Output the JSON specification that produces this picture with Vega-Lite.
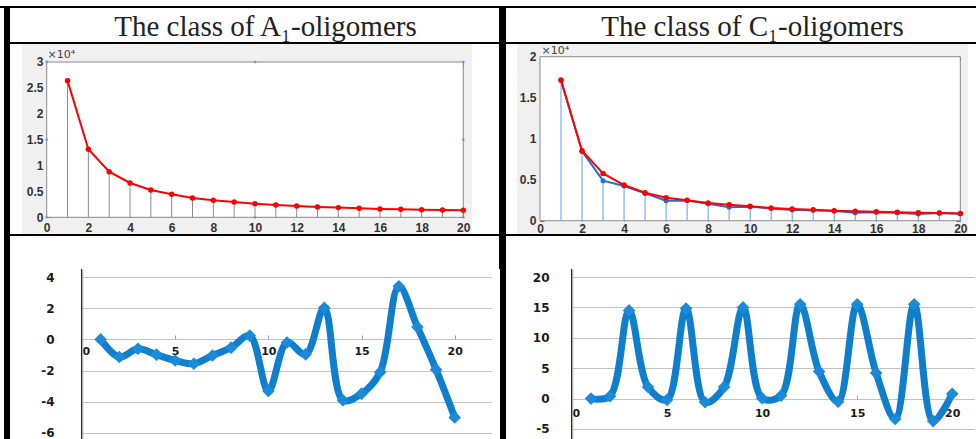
{
  "$schema": "https://vega.github.io/schema/vega-lite/v6.json",
  "background": "black",
  "padding": 0,
  "spacing": 2,
  "datasets": {
    "a1": [
      {"n": 1, "v": 26400}, {"n": 2, "v": 13140}, {"n": 3, "v": 8820}, {"n": 4, "v": 6630},
      {"n": 5, "v": 5280}, {"n": 6, "v": 4440}, {"n": 7, "v": 3730}, {"n": 8, "v": 3280},
      {"n": 9, "v": 2960}, {"n": 10, "v": 2640}, {"n": 11, "v": 2380}, {"n": 12, "v": 2190},
      {"n": 13, "v": 2000}, {"n": 14, "v": 1870}, {"n": 15, "v": 1740}, {"n": 16, "v": 1610},
      {"n": 17, "v": 1550}, {"n": 18, "v": 1480}, {"n": 19, "v": 1420}, {"n": 20, "v": 1350}
    ],
    "c1": [
      {"n": 1, "fit": 17150, "obs": 17100}, {"n": 2, "fit": 8540, "obs": 8450},
      {"n": 3, "fit": 5770, "obs": 4880}, {"n": 4, "fit": 4350, "obs": 4230},
      {"n": 5, "fit": 3410, "obs": 3330}, {"n": 6, "fit": 2800, "obs": 2440},
      {"n": 7, "fit": 2480, "obs": 2460}, {"n": 8, "fit": 2150, "obs": 2070},
      {"n": 9, "fit": 1950, "obs": 1630}, {"n": 10, "fit": 1750, "obs": 1710},
      {"n": 11, "fit": 1550, "obs": 1500}, {"n": 12, "fit": 1420, "obs": 1300},
      {"n": 13, "fit": 1340, "obs": 1260}, {"n": 14, "fit": 1220, "obs": 1180},
      {"n": 15, "fit": 1140, "obs": 980}, {"n": 16, "fit": 1100, "obs": 1020},
      {"n": 17, "fit": 1020, "obs": 980}, {"n": 18, "fit": 980, "obs": 810},
      {"n": 19, "fit": 930, "obs": 930}, {"n": 20, "fit": 890, "obs": 850}
    ],
    "corners": [
      {"x": 0, "y": 0}, {"x": 10, "y": 0}, {"x": 20, "y": 0}, {"x": 0, "y": 15000},
      {"x": 20, "y": 15000}, {"x": 0, "y": 30000}, {"x": 10, "y": 30000}, {"x": 20, "y": 30000}
    ],
    "exA": [
      {"n": 1, "v": 0}, {"n": 2, "v": -1.13}, {"n": 3, "v": -0.6}, {"n": 4, "v": -0.98},
      {"n": 5, "v": -1.35}, {"n": 6, "v": -1.56}, {"n": 7, "v": -1.03}, {"n": 8, "v": -0.53},
      {"n": 9, "v": 0.24}, {"n": 10, "v": -3.3}, {"n": 11, "v": -0.2}, {"n": 12, "v": -0.96},
      {"n": 13, "v": 2.03}, {"n": 14, "v": -3.9}, {"n": 15, "v": -3.48}, {"n": 16, "v": -2.1},
      {"n": 17, "v": 3.4}, {"n": 18, "v": 0.79}, {"n": 19, "v": -1.94}, {"n": 20, "v": -5.0}
    ],
    "exC": [
      {"n": 1, "v": 0}, {"n": 2, "v": 0.4}, {"n": 3, "v": 14.5}, {"n": 4, "v": 1.9},
      {"n": 5, "v": -0.2}, {"n": 6, "v": 14.8}, {"n": 7, "v": -0.6}, {"n": 8, "v": 1.9},
      {"n": 9, "v": 15.0}, {"n": 10, "v": 0.05}, {"n": 11, "v": 0.5}, {"n": 12, "v": 15.5},
      {"n": 13, "v": 4.45}, {"n": 14, "v": -0.5}, {"n": 15, "v": 15.5}, {"n": 16, "v": 4.2},
      {"n": 17, "v": -3.35}, {"n": 18, "v": 15.5}, {"n": 19, "v": -3.7}, {"n": 20, "v": 0.8}
    ],
    "gridA": [{"g": -6}, {"g": -4}, {"g": -2}, {"g": 0}, {"g": 2}, {"g": 4}],
    "gridC": [{"g": -5}, {"g": 0}, {"g": 5}, {"g": 10}, {"g": 15}, {"g": 20}],
    "blank": [{}],
    "tA": [{"t": "The class of A₁-oligomers"}],
    "tC": [{"t": "The class of C₁-oligomers"}]
  },
  "vconcat": [
    {"width": 976, "height": 6, "data": {"name": "blank"}, "mark": {"type": "rect", "color": "white"}, "encoding": {}},
    {
      "spacing": 6,
      "hconcat": [
        {"width": 4, "height": 431, "data": {"name": "blank"}, "mark": {"type": "rect", "color": "white"}, "encoding": {}},
        {
          "spacing": 2,
          "vconcat": [
            {
              "width": 489, "height": 34,
              "data": {"name": "tA"},
              "layer": [
                {"mark": {"type": "rect", "color": "white"}, "encoding": {}},
                {
                  "mark": {"type": "text", "font": "Liberation Serif", "fontSize": 29, "color": "#222222", "baseline": "alphabetic", "dy": 11, "dx": 11},
                  "encoding": {"text": {"field": "t"}}
                }
              ]
            },
            {
              "spacing": 0,
              "hconcat": [
                {"width": 12, "height": 190, "data": {"name": "blank"}, "mark": {"type": "rect", "color": "white"}, "encoding": {}},
                {
                  "width": 450, "height": 190,
                  "view": {"fill": "#f0f0f0"},
                  "resolve": {"axis": {"x": "independent", "y": "independent"}},
                  "layer": [
                    {
                      "data": {"name": "blank"},
                      "mark": {"type": "rect", "fill": "white", "stroke": "#8a8a8a", "strokeWidth": 1},
                      "encoding": {
                        "x": {"datum": 0, "type": "quantitative", "scale": {"domain": [-1.186, 20.418], "nice": false, "zero": false},
                          "axis": {"orient": "bottom", "offset": -17, "values": [0,2,4,6,8,10,12,14,16,18,20], "domain": false, "grid": false, "tickSize": -4, "tickColor": "#666666", "labelPadding": 9, "labelFont": "Liberation Sans", "labelFontSize": 12, "labelFontWeight": "bold", "labelColor": "#333333", "title": null}},
                        "x2": {"datum": 20},
                        "y": {"datum": 0, "type": "quantitative", "scale": {"domain": [-3226, 33477], "nice": false, "zero": false},
                          "axis": {"orient": "left", "offset": -25, "values": [0,5000,10000,15000,20000,25000,30000], "labelExpr": "'' + datum.value / 10000", "domain": false, "grid": false, "tickSize": -4, "tickColor": "#666666", "labelPadding": 8, "labelFont": "Liberation Sans", "labelFontSize": 12, "labelFontWeight": "bold", "labelColor": "#333333",
                            "title": "×10⁴", "titleAngle": 0, "titleAlign": "left", "titleBaseline": "alphabetic", "titleX": 0, "titleY": 13, "titleFont": "DejaVu Sans", "titleFontSize": 11, "titleFontWeight": "normal", "titleColor": "#444444"}},
                        "y2": {"datum": 30000}
                      }
                    },
                    {
                      "data": {"name": "a1"},
                      "mark": {"type": "rule", "color": "#8c8c8c", "strokeWidth": 1},
                      "encoding": {
                        "x": {"field": "n", "type": "quantitative",
                          "axis": {"orient": "top", "offset": -18, "values": [0,2,4,6,8,10,12,14,16,18,20], "labels": false, "domain": false, "grid": false, "tickSize": -4, "tickColor": "#666666", "title": null}},
                        "y": {"field": "v", "type": "quantitative",
                          "axis": {"orient": "right", "offset": -9, "values": [0,5000,10000,15000,20000,25000,30000], "labels": false, "domain": false, "grid": false, "tickSize": -4, "tickColor": "#666666", "title": null}},
                        "y2": {"datum": 0}
                      }
                    },
                    {
                      "data": {"name": "a1"},
                      "mark": {"type": "line", "color": "#ff0000", "strokeWidth": 2, "point": {"filled": true, "color": "#ff0000", "size": 30}},
                      "encoding": {
                        "x": {"field": "n", "type": "quantitative", "axis": null},
                        "y": {"field": "v", "type": "quantitative", "axis": null}
                      }
                    },
                    {
                      "data": {"name": "corners"},
                      "mark": {"type": "point", "filled": true, "color": "#3aa0e0", "size": 8},
                      "encoding": {
                        "x": {"field": "x", "type": "quantitative", "axis": null},
                        "y": {"field": "y", "type": "quantitative", "axis": null}
                      }
                    }
                  ]
                },
                {"width": 27, "height": 190, "data": {"name": "blank"}, "mark": {"type": "rect", "color": "white"}, "encoding": {}}
              ]
            },
            {
              "spacing": 0,
              "vconcat": [
                {"width": 489, "height": 33, "data": {"name": "blank"}, "mark": {"type": "rect", "color": "white"}, "encoding": {}},
                {
                  "spacing": 0,
                  "hconcat": [
                    {
                      "width": 71, "height": 170,
                      "data": {"name": "gridA"},
                      "mark": {"type": "rule", "opacity": 0},
                      "encoding": {
                        "y": {"field": "g", "type": "quantitative", "scale": {"domain": [-6.385, 4.513], "nice": false, "zero": false},
                          "axis": {"orient": "left", "offset": -71, "values": [-6,-4,-2,0,2,4], "labelExpr": "datum.value < 0 ? '-' + abs(datum.value) : '' + datum.value", "domain": false, "ticks": false, "grid": false, "labelPadding": 27, "labelFont": "DejaVu Sans", "labelFontSize": 12, "labelFontWeight": "bold", "labelColor": "#1a1a1a", "title": null}}
                      }
                    },
                    {
                      "width": 410, "height": 170,
                      "data": {"name": "exA"},
                      "mark": {"type": "line", "color": "#0f7fcd", "strokeWidth": 7, "interpolate": "catmull-rom", "point": {"shape": "diamond", "filled": true, "size": 160, "color": "#1b8ad8"}},
                      "encoding": {
                        "x": {"field": "n", "type": "quantitative", "scale": {"domain": [0, 22], "nice": false, "zero": false},
                          "axis": {"orient": "bottom", "offset": -100, "values": [0,5,10,15,20], "labelFlush": true, "domain": false, "ticks": true, "tickSize": -4, "tickColor": "#a0a0a0", "labelPadding": 10, "grid": false, "labelFont": "DejaVu Sans", "labelFontSize": 11, "labelFontWeight": "bold", "labelColor": "#1a1a1a", "title": null}},
                        "y": {"field": "v", "type": "quantitative", "scale": {"domain": [-6.385, 4.513], "nice": false, "zero": false},
                          "axis": {"orient": "left", "values": [-6,-4,-2,0,2,4], "labels": false, "ticks": false, "domain": true, "domainColor": "#b0b0b0", "domainWidth": 1.5, "grid": true, "gridColor": "#c2c2c2", "gridWidth": 1.2, "title": null}}
                      }
                    },
                    {"width": 8, "height": 170, "data": {"name": "blank"}, "mark": {"type": "rect", "color": "white"}, "encoding": {}}
                  ]
                }
              ]
            }
          ]
        },
        {
          "spacing": 2,
          "vconcat": [
            {
              "width": 471, "height": 34,
              "data": {"name": "tC"},
              "layer": [
                {"mark": {"type": "rect", "color": "white"}, "encoding": {}},
                {
                  "mark": {"type": "text", "font": "Liberation Serif", "fontSize": 29, "color": "#222222", "baseline": "alphabetic", "dy": 11, "dx": 11},
                  "encoding": {"text": {"field": "t"}}
                }
              ]
            },
            {
              "spacing": 0,
              "hconcat": [
                {"width": 11, "height": 190, "data": {"name": "blank"}, "mark": {"type": "rect", "color": "white"}, "encoding": {}},
                {
                  "width": 451, "height": 190,
                  "view": {"fill": "#f0f0f0"},
                  "resolve": {"axis": {"x": "independent", "y": "independent"}},
                  "layer": [
                    {
                      "data": {"name": "blank"},
                      "mark": {"type": "rect", "fill": "white", "stroke": "#8a8a8a", "strokeWidth": 1},
                      "encoding": {
                        "x": {"datum": 0, "type": "quantitative", "scale": {"domain": [-1.094, 20.366], "nice": false, "zero": false},
                          "axis": {"orient": "bottom", "offset": -13, "values": [0,2,4,6,8,10,12,14,16,18,20], "domain": false, "grid": false, "tickSize": -4, "tickColor": "#666666", "labelPadding": 6, "labelFont": "Liberation Sans", "labelFontSize": 12, "labelFontWeight": "bold", "labelColor": "#333333", "title": null}},
                        "x2": {"datum": 20},
                        "y": {"datum": 0, "type": "quantitative", "scale": {"domain": [-1622, 21549], "nice": false, "zero": false},
                          "axis": {"orient": "left", "offset": -23, "values": [0,5000,10000,15000,20000], "labelExpr": "'' + datum.value / 10000", "domain": false, "grid": false, "tickSize": -4, "tickColor": "#666666", "labelPadding": 8, "labelFont": "Liberation Sans", "labelFontSize": 12, "labelFontWeight": "bold", "labelColor": "#333333",
                            "title": "×10⁴", "titleAngle": 0, "titleAlign": "left", "titleBaseline": "alphabetic", "titleX": 1, "titleY": 9, "titleFont": "DejaVu Sans", "titleFontSize": 11, "titleFontWeight": "normal", "titleColor": "#444444"}},
                        "y2": {"datum": 20000}
                      }
                    },
                    {
                      "data": {"name": "c1"},
                      "mark": {"type": "rule", "color": "#5f9cf2", "strokeWidth": 1},
                      "encoding": {
                        "x": {"field": "n", "type": "quantitative",
                          "axis": {"orient": "top", "offset": -13, "values": [0,2,4,6,8,10,12,14,16,18,20], "labels": false, "domain": false, "grid": false, "tickSize": -4, "tickColor": "#666666", "title": null}},
                        "y": {"field": "obs", "type": "quantitative",
                          "axis": {"orient": "right", "offset": -8, "values": [0,5000,10000,15000,20000], "labels": false, "domain": false, "grid": false, "tickSize": -4, "tickColor": "#666666", "title": null}},
                        "y2": {"datum": 0}
                      }
                    },
                    {
                      "data": {"name": "c1"},
                      "mark": {"type": "line", "color": "#1f6fd0", "strokeWidth": 2, "point": {"filled": true, "color": "#1f6fd0", "size": 25}},
                      "encoding": {
                        "x": {"field": "n", "type": "quantitative", "axis": null},
                        "y": {"field": "obs", "type": "quantitative", "axis": null}
                      }
                    },
                    {
                      "data": {"name": "c1"},
                      "mark": {"type": "line", "color": "#ff0000", "strokeWidth": 2, "point": {"filled": true, "color": "#ff0000", "size": 30}},
                      "encoding": {
                        "x": {"field": "n", "type": "quantitative", "axis": null},
                        "y": {"field": "fit", "type": "quantitative", "axis": null}
                      }
                    }
                  ]
                },
                {"width": 9, "height": 190, "data": {"name": "blank"}, "mark": {"type": "rect", "color": "white"}, "encoding": {}}
              ]
            },
            {
              "spacing": 0,
              "vconcat": [
                {"width": 471, "height": 33, "data": {"name": "blank"}, "mark": {"type": "rect", "color": "white"}, "encoding": {}},
                {
                  "spacing": 0,
                  "hconcat": [
                    {
                      "width": 65, "height": 170,
                      "data": {"name": "gridC"},
                      "mark": {"type": "rule", "opacity": 0},
                      "encoding": {
                        "y": {"field": "g", "type": "quantitative", "scale": {"domain": [-6.645, 21.316], "nice": false, "zero": false},
                          "axis": {"orient": "left", "offset": -65, "values": [-5,0,5,10,15,20], "labelExpr": "datum.value < 0 ? '-' + abs(datum.value) : '' + datum.value", "domain": false, "ticks": false, "grid": false, "labelPadding": 22, "labelFont": "DejaVu Sans", "labelFontSize": 12, "labelFontWeight": "bold", "labelColor": "#1a1a1a", "title": null}}
                      }
                    },
                    {
                      "width": 403, "height": 170,
                      "data": {"name": "exC"},
                      "mark": {"type": "line", "color": "#0f7fcd", "strokeWidth": 7, "interpolate": "catmull-rom", "point": {"shape": "diamond", "filled": true, "size": 160, "color": "#1b8ad8"}},
                      "encoding": {
                        "x": {"field": "n", "type": "quantitative", "scale": {"domain": [0, 21.2], "nice": false, "zero": false},
                          "axis": {"orient": "bottom", "offset": -40, "values": [0,5,10,15,20], "labelFlush": true, "domain": false, "ticks": true, "tickSize": -4, "tickColor": "#a0a0a0", "labelPadding": 12, "grid": false, "labelFont": "DejaVu Sans", "labelFontSize": 11, "labelFontWeight": "bold", "labelColor": "#1a1a1a", "title": null}},
                        "y": {"field": "v", "type": "quantitative", "scale": {"domain": [-6.645, 21.316], "nice": false, "zero": false},
                          "axis": {"orient": "left", "values": [-5,0,5,10,15,20], "labels": false, "ticks": false, "domain": true, "domainColor": "#b0b0b0", "domainWidth": 1.5, "grid": true, "gridColor": "#c2c2c2", "gridWidth": 1.2, "title": null}}
                      }
                    },
                    {"width": 3, "height": 170, "data": {"name": "blank"}, "mark": {"type": "rect", "color": "white"}, "encoding": {}}
                  ]
                }
              ]
            }
          ]
        }
      ]
    }
  ],
  "config": {
    "view": {"stroke": null, "fill": "white"},
    "axis": {"labelOverlap": false, "labelFlush": false}
  }
}
